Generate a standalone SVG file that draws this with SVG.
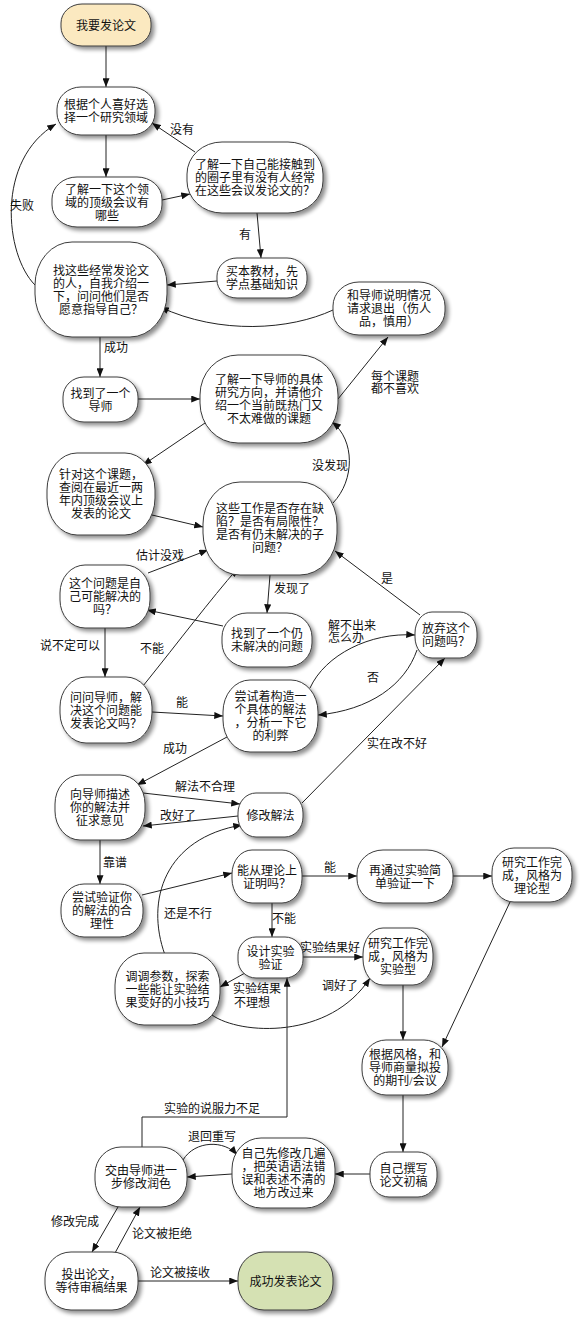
<svg xmlns="http://www.w3.org/2000/svg" width="580" height="1321" viewBox="0 0 580 1321">
<defs>
<style>
text{font-family:"Liberation Serif","Noto Sans CJK SC",serif;font-size:12px;fill:#111;text-anchor:middle}
.n rect{fill:#fff;stroke:#3c3c3c;stroke-width:1;filter:url(#sh)}
.n rect.start{fill:#fbe9c0}
.n rect.end{fill:#d5e1b3}
.e path{fill:none;stroke:#222;stroke-width:1;marker-end:url(#ah)}
</style>
<filter id="sh" x="-20%" y="-20%" width="150%" height="150%">
<feGaussianBlur in="SourceAlpha" stdDeviation="2"/>
<feOffset dx="3" dy="3"/>
<feComponentTransfer><feFuncA type="linear" slope="0.45"/></feComponentTransfer>
<feMerge><feMergeNode/><feMergeNode in="SourceGraphic"/></feMerge>
</filter>
<marker id="ah" viewBox="0 0 10 8" refX="10" refY="4" markerWidth="9" markerHeight="7" markerUnits="userSpaceOnUse" orient="auto">
<path d="M0,0 L10,4 L0,8 z" fill="#111"/>
</marker>
</defs>
<rect width="580" height="1321" fill="#fff"/>

<g id="connectors" class="e">
<path d="M106,46 L106,87"/>
<path d="M106,135 L106,177"/>
<path d="M162,200 L190,194"/>
<path d="M195,152 L152,123"/>
<path d="M257,213 L261,258"/>
<path d="M217,281 L167,285"/>
<path d="M35,285 C5,255 -5,160 56,124"/>
<path d="M333,310 C290,330 220,335 160,307"/>
<path d="M100,337 L100,377"/>
<path d="M138,399 L200,399"/>
<path d="M338,399 L388,337"/>
<path d="M205,423 L143,465"/>
<path d="M152,515 L203,527"/>
<path d="M333,503 C355,480 355,440 332,422"/>
<path d="M148,573 L208,550"/>
<path d="M270,575 L267,613"/>
<path d="M223,626 L147,610"/>
<path d="M105,628 L105,677"/>
<path d="M143,686 C180,640 210,600 238,568"/>
<path d="M152,712 L223,716"/>
<path d="M310,688 C325,655 370,632 415,635"/>
<path d="M417,650 C405,685 370,710 318,715"/>
<path d="M420,615 L335,551"/>
<path d="M227,737 L137,785"/>
<path d="M143,793 L240,804"/>
<path d="M238,816 L143,826"/>
<path d="M302,803 L445,658"/>
<path d="M165,955 C145,900 165,838 242,825"/>
<path d="M100,840 L100,884"/>
<path d="M142,895 L232,873"/>
<path d="M302,876 L357,876"/>
<path d="M453,876 L492,876"/>
<path d="M272,903 L272,937"/>
<path d="M303,957 L363,957"/>
<path d="M245,973 L220,987"/>
<path d="M212,1015 C240,1035 330,1040 370,978"/>
<path d="M510,902 L442,1047"/>
<path d="M403,985 L403,1040"/>
<path d="M403,1095 L403,1152"/>
<path d="M370,1174 L335,1174"/>
<path d="M232,1174 L187,1177"/>
<path d="M183,1160 C195,1140 225,1140 237,1155"/>
<path d="M142,1147 L142,1117 L287,1117 L287,978"/>
<path d="M118,1207 L92,1252"/>
<path d="M115,1253 L140,1207"/>
<path d="M138,1281 L238,1281"/>
</g>

<g id="edge-labels">
<text x="182" y="133.5">没有</text>
<text x="245" y="238.5">有</text>
<text x="22" y="209.5">失败</text>
<text x="116" y="351.5">成功</text>
<text x="395" y="380.5">每个课题</text>
<text x="395" y="392.5">都不喜欢</text>
<text x="330" y="469.5">没发现</text>
<text x="160" y="559.5">估计没戏</text>
<text x="292" y="592.5">发现了</text>
<text x="70" y="649.5">说不定可以</text>
<text x="152" y="652.5">不能</text>
<text x="182" y="706.5">能</text>
<text x="352" y="629.5">解不出来</text>
<text x="346" y="641.5">怎么办</text>
<text x="373" y="681.5">否</text>
<text x="387" y="582.5">是</text>
<text x="175" y="752.5">成功</text>
<text x="205" y="790.5">解法不合理</text>
<text x="178" y="819.5">改好了</text>
<text x="397" y="747.5">实在改不好</text>
<text x="188" y="917.5">还是不行</text>
<text x="115" y="866.5">靠谱</text>
<text x="330" y="871.5">能</text>
<text x="284" y="922.5">不能</text>
<text x="330" y="951.5">实验结果好</text>
<text x="257" y="992.5">实验结果</text>
<text x="252" y="1006.5">不理想</text>
<text x="340" y="989.5">调好了</text>
<text x="212" y="1140.5">退回重写</text>
<text x="212" y="1112.5">实验的说服力不足</text>
<text x="75" y="1225.5">修改完成</text>
<text x="162" y="1237.5">论文被拒绝</text>
<text x="180" y="1276.5">论文被接收</text>
</g>

<g id="n1" class="n"><rect class="start" x="61" y="4" width="90" height="42" rx="21" ry="19"/><text x="106" y="29.5">我要发论文</text></g>
<g id="n2" class="n"><rect x="57" y="87" width="98" height="48" rx="24" ry="22"/><text x="106" y="109">根据个人喜好选</text><text x="106" y="122">择一个研究领域</text></g>
<g id="n3" class="n"><rect x="52" y="177" width="110" height="50" rx="25" ry="22"/><text x="107" y="193.5">了解一下这个领</text><text x="107" y="206.5">域的顶级会议有</text><text x="107" y="219.5">哪些</text></g>
<g id="n4" class="n"><rect x="187" y="142" width="136" height="71" rx="35" ry="32"/><text x="255" y="169">了解一下自己能接触到</text><text x="255" y="182">的圈子里有没有人经常</text><text x="255" y="195">在这些会议发论文的？</text></g>
<g id="n5" class="n"><rect x="217" y="258" width="90" height="40" rx="20" ry="18"/><text x="262" y="276">买本教材，先</text><text x="262" y="289">学点基础知识</text></g>
<g id="n6" class="n"><rect x="35" y="242" width="132" height="95" rx="37" ry="43"/><text x="101" y="274.5">找这些经常发论文</text><text x="101" y="287.5">的人，自我介绍一</text><text x="101" y="300.5">下，问问他们是否</text><text x="101" y="313.5">愿意指导自己？</text></g>
<g id="n7" class="n"><rect x="333" y="282" width="112" height="53" rx="26" ry="24"/><text x="389" y="299.5">和导师说明情况</text><text x="389" y="312.5">请求退出（伤人</text><text x="389" y="325.5">品，慎用）</text></g>
<g id="n8" class="n"><rect x="63" y="377" width="75" height="45" rx="21" ry="20"/><text x="100.5" y="397.5">找到了一个</text><text x="100.5" y="410.5">导师</text></g>
<g id="n9" class="n"><rect x="200" y="355" width="138" height="88" rx="38" ry="40"/><text x="269" y="384">了解一下导师的具体</text><text x="269" y="397">研究方向，并请他介</text><text x="269" y="410">绍一个当前既热门又</text><text x="269" y="423">不太难做的课题</text></g>
<g id="n10" class="n"><rect x="47" y="453" width="108" height="82" rx="30" ry="37"/><text x="101" y="479">针对这个课题，</text><text x="101" y="492">查阅在最近一两</text><text x="101" y="505">年内顶级会议上</text><text x="101" y="518">发表的论文</text></g>
<g id="n11" class="n"><rect x="203" y="482" width="134" height="93" rx="37" ry="42"/><text x="270" y="513">这些工作是否存在缺</text><text x="270" y="526">陷？是否有局限性？</text><text x="270" y="539">是否有仍未解决的子</text><text x="270" y="552">问题？</text></g>
<g id="n12" class="n"><rect x="60" y="565" width="90" height="63" rx="25" ry="28"/><text x="105" y="588">这个问题是自</text><text x="105" y="601">己可能解决的</text><text x="105" y="614">吗？</text></g>
<g id="n13" class="n"><rect x="222" y="613" width="90" height="54" rx="25" ry="24"/><text x="267" y="638">找到了一个仍</text><text x="267" y="651">未解决的问题</text></g>
<g id="n14" class="n"><rect x="415" y="612" width="62" height="46" rx="17" ry="21"/><text x="446" y="633">放弃这个</text><text x="446" y="646">问题吗？</text></g>
<g id="n15" class="n"><rect x="60" y="677" width="92" height="66" rx="26" ry="30"/><text x="106" y="701.5">问问导师，解</text><text x="106" y="714.5">决这个问题能</text><text x="106" y="727.5">发表论文吗？</text></g>
<g id="n16" class="n"><rect x="223" y="680" width="95" height="72" rx="27" ry="32"/><text x="270.5" y="701">尝试着构造一</text><text x="270.5" y="714">个具体的解法</text><text x="270.5" y="727">，分析一下它</text><text x="270.5" y="740">的利弊</text></g>
<g id="n17" class="n"><rect x="55" y="775" width="90" height="65" rx="25" ry="29"/><text x="100" y="799">向导师描述</text><text x="100" y="812">你的解法并</text><text x="100" y="825">征求意见</text></g>
<g id="n18" class="n"><rect x="238" y="793" width="65" height="44" rx="18" ry="20"/><text x="270.5" y="819.5">修改解法</text></g>
<g id="n19" class="n"><rect x="61" y="884" width="82" height="53" rx="23" ry="24"/><text x="102" y="902">尝试验证你</text><text x="102" y="915">的解法的合</text><text x="102" y="928">理性</text></g>
<g id="n20" class="n"><rect x="232" y="850" width="70" height="53" rx="20" ry="24"/><text x="267" y="874.5">能从理论上</text><text x="267" y="887.5">证明吗？</text></g>
<g id="n21" class="n"><rect x="357" y="850" width="96" height="53" rx="26" ry="24"/><text x="405" y="874.5">再通过实验简</text><text x="405" y="887.5">单验证一下</text></g>
<g id="n22" class="n"><rect x="492" y="848" width="80" height="54" rx="22" ry="24"/><text x="532" y="866.5">研究工作完</text><text x="532" y="879.5">成，风格为</text><text x="532" y="892.5">理论型</text></g>
<g id="n23" class="n"><rect x="238" y="937" width="65" height="41" rx="18" ry="18"/><text x="270.5" y="955.5">设计实验</text><text x="270.5" y="968.5">验证</text></g>
<g id="n24" class="n"><rect x="363" y="928" width="70" height="57" rx="20" ry="26"/><text x="398" y="948">研究工作完</text><text x="398" y="961">成，风格为</text><text x="398" y="974">实验型</text></g>
<g id="n25" class="n"><rect x="115" y="953" width="105" height="72" rx="29" ry="32"/><text x="167.5" y="980.5">调调参数，探索</text><text x="167.5" y="993.5">一些能让实验结</text><text x="167.5" y="1006.5">果变好的小技巧</text></g>
<g id="n26" class="n"><rect x="362" y="1040" width="86" height="55" rx="24" ry="25"/><text x="405" y="1059">根据风格，和</text><text x="405" y="1072">导师商量拟投</text><text x="405" y="1085">的期刊/会议</text></g>
<g id="n27" class="n"><rect x="370" y="1152" width="67" height="45" rx="19" ry="20"/><text x="403.5" y="1172.5">自己撰写</text><text x="403.5" y="1185.5">论文初稿</text></g>
<g id="n28" class="n"><rect x="232" y="1138" width="103" height="70" rx="29" ry="31"/><text x="283.5" y="1158">自己先修改几遍</text><text x="283.5" y="1171">，把英语语法错</text><text x="283.5" y="1184">误和表述不清的</text><text x="283.5" y="1197">地方改过来</text></g>
<g id="n29" class="n"><rect x="95" y="1147" width="92" height="60" rx="26" ry="27"/><text x="141" y="1175">交由导师进一</text><text x="141" y="1188">步修改润色</text></g>
<g id="n30" class="n"><rect x="45" y="1252" width="93" height="58" rx="26" ry="26"/><text x="91.5" y="1279">投出论文，</text><text x="91.5" y="1292">等待审稿结果</text></g>
<g id="n31" class="n"><rect class="end" x="238" y="1252" width="95" height="58" rx="26" ry="26"/><text x="285.5" y="1285.5">成功发表论文</text></g>
</svg>
